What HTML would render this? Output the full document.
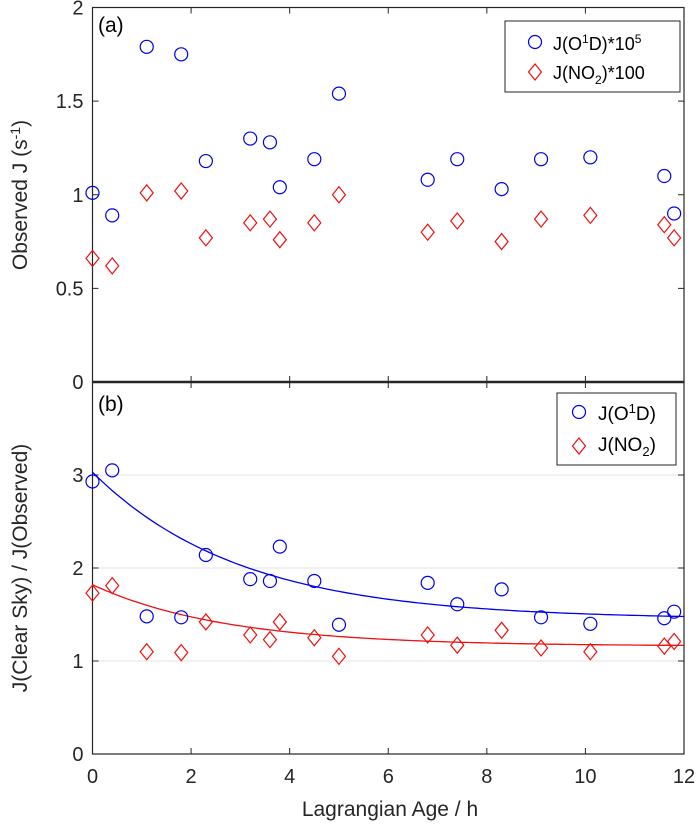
<!DOCTYPE html>
<html><head><meta charset="utf-8"><style>
html,body{margin:0;padding:0;background:#fff;}
svg{display:block;font-family:"Liberation Sans",sans-serif;}
</style></head><body>
<svg id="chart" width="700" height="829"></svg>
<script>
const ages=[0,0.4,1.1,1.8,2.3,3.2,3.6,3.8,4.5,5.0,6.8,7.4,8.3,9.1,10.1,11.6,11.8];
const obsO1D=[1.01,0.89,1.79,1.75,1.18,1.30,1.28,1.04,1.19,1.54,1.08,1.19,1.03,1.19,1.20,1.10,0.90];
const obsNO2=[0.66,0.62,1.01,1.02,0.77,0.85,0.87,0.76,0.85,1.00,0.80,0.86,0.75,0.87,0.89,0.84,0.77];
const ratioO1D=[2.93,3.05,1.48,1.47,2.14,1.88,1.86,2.23,1.86,1.39,1.84,1.61,1.77,1.47,1.40,1.46,1.53];
const ratioNO2=[1.73,1.81,1.10,1.09,1.42,1.28,1.23,1.42,1.25,1.05,1.28,1.17,1.33,1.14,1.10,1.16,1.21];
const xTicks=[0,2,4,6,8,10,12];
const yTicksTop=[0,0.5,1,1.5,2];
const yTicksBot=[0,1,2,3];
const fitO1D=[1.45,1.58,3.0];
const fitNO2=[1.16,0.66,2.7];

const NS="http://www.w3.org/2000/svg";
const svg=document.getElementById('chart');
const X0=92.5,X1=684;
const sx=v=>X0+(v-0)/(12-0)*(X1-X0);
const syT=v=>382-(v/2)*(382-7.5);
const syB=v=>754-(v/4)*(754-382);
function el(t,a,p){const e=document.createElementNS(NS,t);for(const k in a)e.setAttribute(k,a[k]);(p||svg).appendChild(e);return e;}
function txt(s,a){const e=el('text',a);e.textContent=s;return e;}

[1,2,3].forEach(v=>{const g=el('line',{x1:X0,x2:X1,y1:syB(v),y2:syB(v),stroke:'#e3e3e3','stroke-width':1});
});

function axes(sy,yt,ybot,ytop,name){
  const r=el('rect',{x:X0,y:sy(ytop),width:X1-X0,height:sy(ybot)-sy(ytop),fill:'none',stroke:'#262626','stroke-width':1.2});
  
  yt.forEach(v=>{
    el('line',{x1:X0,x2:X0+6,y1:sy(v),y2:sy(v),stroke:'#262626'});
    el('line',{x1:X1,x2:X1-6,y1:sy(v),y2:sy(v),stroke:'#262626'});
    const t=txt(String(v),{x:X0-9,y:sy(v)+7,'font-size':20,'text-anchor':'end',fill:'#262626'});
    
  });
  xTicks.forEach(v=>{
    el('line',{x1:sx(v),x2:sx(v),y1:sy(ybot),y2:sy(ybot)-6,stroke:'#262626'});
    el('line',{x1:sx(v),x2:sx(v),y1:sy(ytop),y2:sy(ytop)+6,stroke:'#262626'});
  });
}
axes(syT,yTicksTop,0,2,'top-panel');
axes(syB,yTicksBot,0,4,'bottom-panel');
el('line',{x1:X0,x2:X1,y1:382,y2:382,stroke:'#262626','stroke-width':2.5});
xTicks.forEach(v=>{const t=txt(String(v),{x:sx(v),y:783,'font-size':20,'text-anchor':'middle',fill:'#262626'});
});

function circle(x,y,p){return el('circle',{cx:x,cy:y,r:6.5,fill:'none',stroke:'#0000ee','stroke-width':1.2},p);}
function diamond(x,y,p){return el('polygon',{points:`${x},${y-8} ${x+6.5},${y} ${x},${y+8} ${x-6.5},${y}`,fill:'none',stroke:'#ee1111','stroke-width':1.2},p);}

function fit(p,col,name){let d='';for(let i=0;i<=120;i++){const x=i/10;const y=p[0]+p[1]*Math.exp(-x/p[2]);d+=(i?'L':'M')+sx(x).toFixed(1)+','+syB(y).toFixed(1);}
const pa=el('path',{d,fill:'none',stroke:col,'stroke-width':1.3});}
fit(fitO1D,'#0000ee','fit-curve-o1d');
fit(fitNO2,'#ee1111','fit-curve-no2');

ages.forEach((a,i)=>{
  let c=circle(sx(a),syT(obsO1D[i]));
  let d=diamond(sx(a),syT(obsNO2[i]));
  c=circle(sx(a),syB(ratioO1D[i]));
  d=diamond(sx(a),syB(ratioNO2[i]));
});
</script>
<svg width="700" height="829" style="position:absolute;left:0;top:0;font-family:'Liberation Sans',sans-serif">
  <text x="98" y="32" font-size="21" fill="#000">(a)</text>
  <text x="98" y="411" font-size="21" fill="#000">(b)</text>
  <g>
    <rect x="505" y="21" width="175" height="71" fill="#fff" stroke="#262626" stroke-width="1"/>
    <circle cx="535" cy="42" r="6.5" fill="none" stroke="#0000ee" stroke-width="1.2"/>
    <text x="553" y="50" font-size="18" fill="#000">J(O<tspan font-size="12" dy="-7">1</tspan><tspan dy="7">D)*10</tspan><tspan font-size="12" dy="-7">5</tspan></text>
    <polygon points="535,64 541.5,72 535,80 528.5,72" fill="none" stroke="#ee1111" stroke-width="1.2"/>
    <text x="553" y="79" font-size="18" fill="#000">J(NO<tspan font-size="12" dy="5">2</tspan><tspan dy="-5">)*100</tspan></text>
  </g>
  <g>
    <rect x="557" y="393" width="119" height="72" fill="#fff" stroke="#262626" stroke-width="1"/>
    <circle cx="579" cy="412" r="6.5" fill="none" stroke="#0000ee" stroke-width="1.2"/>
    <text x="598" y="420" font-size="19" fill="#000">J(O<tspan font-size="13" dy="-7">1</tspan><tspan dy="7">D)</tspan></text>
    <polygon points="579,438 585.5,446 579,454 572.5,446" fill="none" stroke="#ee1111" stroke-width="1.2"/>
    <text x="598" y="451" font-size="19" fill="#000">J(NO<tspan font-size="13" dy="5">2</tspan><tspan dy="-5">)</tspan></text>
  </g>
  <text x="390" y="816" font-size="21" text-anchor="middle" fill="#262626">Lagrangian Age / h</text>
  <text transform="translate(27,195) rotate(-90)" font-size="21" text-anchor="middle" fill="#262626">Observed J (s<tspan font-size="14" dy="-7">-1</tspan><tspan dy="7">)</tspan></text>
  <text transform="translate(27,568) rotate(-90)" font-size="21" text-anchor="middle" fill="#262626">J(Clear Sky) / J(Observed)</text>
</svg>
</body></html>
